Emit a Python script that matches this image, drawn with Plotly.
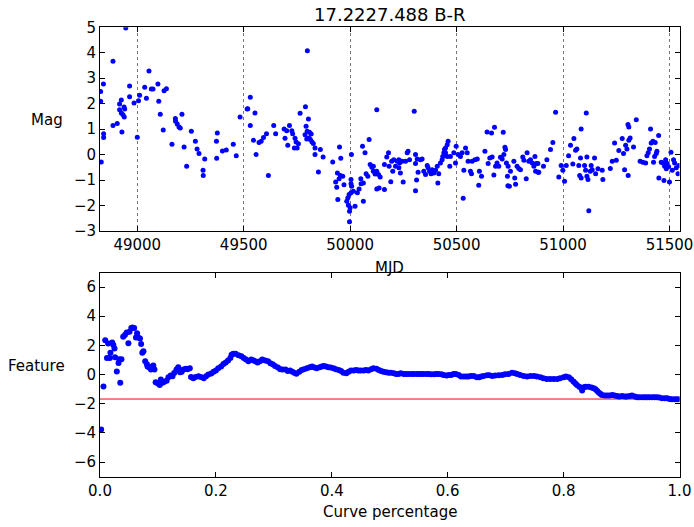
import plotly.graph_objects as go

title_text = "17.2227.488 B-R"

# ---- top panel: light curve (MJD, Mag) ----
mjd = [
    48946, 48886, 48841, 48828, 48828, 48964, 49055, 49035, 49074, 49066,
    49097, 49126, 49137, 48964, 49011, 49043, 49006, 48985, 49101, 48925,
    48917, 48938, 48941, 48917, 48925, 48933, 48939, 49108, 49210, 49179,
    49180, 49188, 49196, 49202, 48886, 48906, 48928, 48842, 48842, 49000,
    49122, 49254, 49273, 49281, 49290, 49317, 49163, 49220, 49232, 49309,
    49310, 49372, 49376, 49373, 49400, 49418, 49451, 49465, 49483, 49516,
    48831,
    49531, 49519, 49553, 49531, 49546, 49558, 49572, 49582, 49593, 49607,
    49616, 49641, 49650, 49799, 49790, 49765, 49804, 49690, 49702, 49715,
    49726, 49730, 49694, 49741, 49746, 49707, 49738, 49751, 49757, 49793,
    49798, 49809, 49817, 49788, 49796, 49806, 49813, 49820, 49827, 49835,
    49835, 49860, 49873, 49851, 49918, 49950, 49956, 49940, 49954, 49965,
    49948, 49932, 49971, 49937, 49942, 50006, 50004, 50004, 50007, 49995,
    49989, 49984, 50004, 50015, 49992, 50000, 49997, 49997, 50023, 50034,
    50042, 50051, 50062, 50050, 50062, 50058, 50070, 50089, 50075, 50083,
    50094, 50102, 50109, 50109, 50117, 50125, 50133, 50141, 50125, 50136,
    50125, 50161, 50161, 50172, 50180, 50191, 50195, 50200, 50183,
    50205, 50213, 50221, 50229, 50229, 50236, 50232, 50244, 50249, 50268,
    50272, 50260, 50279, 50301, 50307, 50315, 50307, 50319, 50312, 50307,
    50330, 50338, 50346, 50354, 50362, 50366, 50373, 50380, 50385, 50393,
    50401, 50409, 50412, 50416, 50424, 50432, 50435, 50440, 50443, 50448,
    50456, 50460, 50448, 50456, 50468, 50471, 50487, 50495, 50498, 50507,
    50518, 50526, 50534, 50531, 50542, 50550, 50554, 50565, 50570, 50573,
    50586, 50597, 50607, 50604, 50617, 50633, 50643, 50664, 50678, 50719,
    50648, 50656, 50667, 50675, 50683, 50690, 50698, 50706, 50714, 50722,
    50727, 50730, 50734, 50739, 50741, 50748, 50742, 50753, 50769, 50773,
    50777, 50784, 50792, 50800, 50811, 50816, 50827, 50831, 50839, 50847,
    50855, 50863, 50868, 50874, 50883, 50871,
    50882, 50886, 50908, 50924, 50941, 50952, 50965, 50980, 50991, 50999,
    51007, 51015, 51026, 51035, 51046, 51051, 51059, 51065, 51074, 51078,
    51082, 51085, 51085, 51101, 51106, 51109, 51112, 51112, 51117, 51121,
    51128, 51132, 51137, 51148, 51153, 51164, 51184, 51187, 51222, 51231,
    51242, 51250, 51262, 51278, 51284, 51289, 51294, 51300, 51305, 51309,
    51309, 51315, 51306, 51331, 51344, 51362, 51375, 51388, 51394, 51400,
    51406, 51411, 51414, 51422, 51425, 51430, 51433, 51438, 51441, 51449,
    51450, 51461, 51469, 51474, 51477, 51482, 51485, 51489, 51496, 51500,
    51507, 51513, 51519, 51524, 51532, 51540, 51544,
]
mag = [
    4.97, 3.67, 2.77, 2.48, 2.10, 2.69, 3.28, 2.65, 2.58, 2.58,
    2.77, 2.51, 2.59, 2.27, 2.33, 2.21, 2.12, 2.03, 2.10, 2.14,
    1.99, 1.87, 1.79, 1.76, 1.63, 1.57, 1.48, 1.59, 1.59, 1.42,
    1.31, 1.20, 1.08, 1.05, 1.14, 1.22, 0.89, 0.82, 0.67, 0.68,
    0.97, 0.92, 0.52, 0.22, 0.04, -0.17, 0.41, 0.30, -0.46, -0.61,
    -0.82, 0.52, 0.85, -0.14, 0.14, 0.18, 0.41, -0.04, 1.48, 1.79,
    -0.29,
    2.25, 1.80, 1.63, 1.14, 0.56, 0.00, 0.48, 0.52, 0.67, 0.82,
    -0.82, 1.14, 0.82, 4.08, 1.88, 1.62, 1.40, 1.01, 0.94, 1.14,
    0.94, 0.82, 0.64, 0.64, 0.50, 0.37, 0.26, 0.26, 0.43, 1.11,
    0.92, 0.88, 0.81, 0.78, 0.61, 0.65, 0.59, 0.51, 0.44, 0.26,
    0.00, 0.20, -0.09, -0.68, -0.29, 0.30, -0.14, -0.72, -0.82, -0.85,
    -0.95, -1.08, -1.18, -1.28, -1.76, 0.00, -0.98, -1.14, -1.24, -1.57,
    -1.70, -1.83, -1.50, -1.44, -1.99, -2.09, -2.22, -2.64, -2.03, -1.50,
    -1.35, -1.14, -1.83, -0.95, -1.11, 0.33, 0.07, 0.59, -0.75, -0.85,
    -0.39, -0.50, -0.65, -0.46, -0.76, -0.65, -0.78, -0.88, -1.35, -1.31,
    1.76, -1.37, -0.39, -0.09, 0.07, -1.07, -0.26, -0.65, -0.46,
    -0.20, -0.46, -0.26, -0.20, -0.52, -0.72, -0.33, -0.26, -1.08, 0.07,
    0.13, -0.26, -0.20, 1.70, 0.00, -0.17, -0.35, -0.69, -1.00, -1.42,
    -0.20, -0.17, -0.65, -0.78, -0.43, -0.52, -0.65, -0.75, -0.59, -0.72,
    -0.61, -0.46, -1.11, -0.75, -0.33, -0.20, -0.07, 0.07, 0.20, 0.26,
    0.39, 0.52, 0.07, -0.07, -0.46, -0.07, 0.07, -0.33, 0.33, 0.00,
    -0.07, 0.07, -0.61, -1.71, 0.26, 0.07, -0.26, -0.65, -0.75, -0.26,
    -0.20, -0.17, -0.65, -1.20, -0.85, 0.13, 0.89, 0.85, 1.07, 0.88,
    -0.35, -0.13, -0.09, -0.80, -0.46, -0.33, -0.46, -0.10, -0.17, 0.00,
    0.29, 0.20, -0.33, -0.85, -1.22, -1.24, -0.46, -0.65, -0.26, -0.92,
    -1.16, -0.46, -0.55, -0.59, -0.09, -0.22, -0.95, 0.07, -0.26, -0.20,
    -0.33, -0.46, -0.07, -0.35, -0.69, -0.65,
    -0.35, -0.69, -0.46, -0.20, 0.20, 0.48, 1.66, -0.88, -0.43, -0.61,
    -1.05, -0.43, -0.04, 0.37, -0.37, 0.63, 0.17, 0.22, -0.43, -0.82,
    -0.13, 1.01, -0.92, -0.43, -0.61, 1.63, -0.09, -0.85, -0.98, -2.20,
    -0.65, -0.43, -0.59, -0.13, -0.75, -0.56, -0.61, -0.98, -0.55, -0.26,
    0.46, -0.22, 0.16, 0.63, 0.04, -0.59, 0.37, 0.22, 1.18, 1.08,
    0.56, 0.65, -0.82, 0.30, 1.37, -0.26, -0.30, -0.33, -0.04, 0.07,
    0.22, 1.01, 0.46, 0.52, -0.30, -0.07, 0.48, 0.04, 0.13, 0.75,
    -0.92, -0.30, -0.33, -1.02, -0.46, -0.20, -0.56, -0.35, -0.48, -1.08,
    0.09, -0.61, -0.20, -0.33, -0.52, -0.75, -0.43,
]

# ---- bottom panel: feature vs curve percentage ----
frac = [
    0.002, 0.006, 0.009, 0.012, 0.014, 0.017, 0.018, 0.021, 0.023, 0.025,
    0.026, 0.029, 0.032, 0.033, 0.035, 0.037, 0.040, 0.043, 0.046, 0.049,
    0.051, 0.054, 0.056, 0.059, 0.062, 0.064, 0.066, 0.069, 0.071, 0.073,
    0.075, 0.078, 0.081, 0.082, 0.085, 0.088, 0.090, 0.092, 0.094, 0.096,
    0.100, 0.103, 0.105, 0.108, 0.111, 0.115, 0.118, 0.122, 0.125, 0.128,
    0.132, 0.135, 0.138, 0.141, 0.144, 0.148, 0.151, 0.155, 0.157, 0.161,
    0.165, 0.170, 0.174, 0.179, 0.183, 0.187, 0.192, 0.196, 0.200, 0.204,
    0.209, 0.213, 0.217, 0.221, 0.225, 0.227, 0.230, 0.234, 0.239, 0.244,
    0.248, 0.252, 0.256, 0.261, 0.265, 0.269, 0.272, 0.276, 0.280, 0.285,
    0.290, 0.294, 0.298, 0.302, 0.307, 0.311, 0.315, 0.320, 0.324, 0.328,
    0.332, 0.336, 0.339, 0.344, 0.348, 0.352, 0.357, 0.362, 0.366, 0.370,
    0.374, 0.379, 0.383, 0.386, 0.390, 0.394, 0.398, 0.403, 0.407, 0.412,
    0.416, 0.420, 0.425, 0.429, 0.433, 0.438, 0.442, 0.446, 0.450, 0.455,
    0.459, 0.463, 0.468, 0.472, 0.477, 0.481, 0.485, 0.489, 0.494, 0.498,
    0.502, 0.507, 0.511, 0.515, 0.519, 0.524, 0.528, 0.532, 0.537, 0.541,
    0.546, 0.550, 0.554, 0.558, 0.563, 0.567, 0.571, 0.576, 0.580, 0.584,
    0.589, 0.593, 0.598, 0.602, 0.606, 0.610, 0.614, 0.619, 0.623, 0.628,
    0.632, 0.636, 0.640, 0.645, 0.650, 0.654, 0.658, 0.662, 0.668, 0.672,
    0.677, 0.682, 0.688, 0.694, 0.699, 0.705, 0.711, 0.716, 0.720, 0.725,
    0.731, 0.737, 0.743, 0.749, 0.754, 0.760, 0.765, 0.771, 0.777, 0.783,
    0.789, 0.794, 0.800, 0.804, 0.809, 0.813, 0.817, 0.820, 0.823, 0.827,
    0.831, 0.832, 0.835, 0.838, 0.843, 0.848, 0.852, 0.855, 0.858, 0.861,
    0.864, 0.866, 0.871, 0.875, 0.879, 0.884, 0.888, 0.892, 0.896, 0.901,
    0.906, 0.909, 0.914, 0.918, 0.923, 0.927, 0.931, 0.936, 0.940, 0.944,
    0.948, 0.953, 0.957, 0.961, 0.965, 0.970, 0.975, 0.979, 0.983, 0.987,
    0.992, 0.996, 1.000,
]
feature = [
    -3.77, -0.82, 2.35, 1.14, 2.13, 1.14, 1.49, 2.20, 2.03, 1.78,
    1.19, 0.21, 0.80, 1.05, -0.57, 1.05, 2.60, 2.72, 2.88, 2.15,
    2.94, 3.20, 3.22, 3.20, 2.54, 2.83, 2.54, 2.47, 2.10, 1.49,
    1.60, 0.91, 0.71, 0.55, 0.48, 0.34, 0.55, 0.62, 0.34, -0.53,
    -0.61, -0.71, -0.34, -0.57, -0.50, -0.43, -0.18, -0.07, -0.11, 0.11,
    0.34, 0.50, 0.16, 0.20, 0.34, 0.39, 0.36, 0.43, -0.16, -0.25,
    -0.16, -0.11, -0.16, -0.25, -0.11, 0.00, 0.07, 0.20, 0.27, 0.43,
    0.55, 0.73, 0.82, 0.96, 1.14, 1.35, 1.42, 1.42, 1.33, 1.26,
    1.14, 1.03, 0.91, 1.03, 0.96, 0.89, 0.82, 0.91, 1.03, 0.96,
    0.91, 0.78, 0.71, 0.59, 0.48, 0.36, 0.34, 0.34, 0.25, 0.27,
    0.20, 0.11, 0.05, 0.20, 0.32, 0.36, 0.43, 0.50, 0.55, 0.48,
    0.43, 0.50, 0.55, 0.59, 0.55, 0.50, 0.48, 0.43, 0.36, 0.32,
    0.25, 0.13, 0.09, 0.20, 0.27, 0.27, 0.32, 0.27, 0.27, 0.27,
    0.32, 0.27, 0.36, 0.43, 0.39, 0.32, 0.25, 0.20, 0.16, 0.13,
    0.13, 0.09, 0.04, 0.04, 0.09, 0.04, 0.04, 0.04, 0.04, 0.04,
    0.04, 0.04, 0.04, 0.04, 0.04, 0.04, 0.02, 0.02, 0.04, 0.04,
    0.02, -0.03, -0.07, -0.03, -0.03, 0.04, 0.04, -0.03, -0.14, -0.14,
    -0.14, -0.14, -0.10, -0.10, -0.19, -0.19, -0.14, -0.10, -0.05, -0.05,
    -0.10, -0.07, -0.05, -0.03, 0.02, 0.04, 0.13, 0.09, 0.04, -0.03,
    -0.10, -0.14, -0.10, -0.10, -0.14, -0.19, -0.26, -0.30, -0.30, -0.30,
    -0.30, -0.26, -0.19, -0.14, -0.19, -0.33, -0.48, -0.60, -0.71, -0.83,
    -0.94, -1.10, -0.87, -0.83, -0.83, -0.89, -0.94, -1.00, -1.12, -1.24,
    -1.33, -1.40, -1.44, -1.44, -1.44, -1.40, -1.44, -1.47, -1.51, -1.47,
    -1.51, -1.51, -1.47, -1.44, -1.51, -1.56, -1.56, -1.56, -1.56, -1.56,
    -1.56, -1.56, -1.56, -1.56, -1.58, -1.63, -1.63, -1.63, -1.67, -1.70,
    -1.70, -1.70, -1.70,
]
threshold = -1.68

mjd_ticks = [49000, 49500, 50000, 50500, 51000, 51500]
mag_ticks = [-3, -2, -1, 0, 1, 2, 3, 4, 5]
frac_ticks = [0.0, 0.2, 0.4, 0.6, 0.8, 1.0]
feat_ticks = [-6, -4, -2, 0, 2, 4, 6]

FONT = "DejaVu Sans"
BLUE = "#0000ff"

fig = go.Figure()
fig.add_trace(go.Scatter(x=mjd, y=mag, mode="markers",
                         marker=dict(color=BLUE, size=5, line=dict(width=0)),
                         xaxis="x", yaxis="y", showlegend=False, hoverinfo="skip"))
fig.add_trace(go.Scatter(x=[0, 1], y=[threshold, threshold], mode="lines",
                         line=dict(color="#ff0000", width=1),
                         xaxis="x2", yaxis="y2", showlegend=False, hoverinfo="skip"))
fig.add_trace(go.Scatter(x=frac, y=feature, mode="markers",
                         marker=dict(color=BLUE, size=6, line=dict(width=0)),
                         xaxis="x2", yaxis="y2", showlegend=False, hoverinfo="skip"))

W, H = 694, 527
xl, xr = 100 / W, 679.5 / W
top_dom = [1 - 231 / H, 1 - 27.3 / H]
bot_dom = [1 - 476.6 / H, 1 - 272.5 / H]

axis_common = dict(showline=True, linecolor="black", linewidth=1, mirror="ticks",
                   ticks="inside", ticklen=5, tickwidth=1, tickcolor="black",
                   zeroline=False, automargin=False,
                   tickfont=dict(family=FONT, size=15, color="black"))

fig.update_layout(
    width=W, height=H,
    margin=dict(l=0, r=0, t=0, b=0),
    paper_bgcolor="white", plot_bgcolor="white",
    font=dict(family=FONT, color="black"),
    xaxis=dict(domain=[xl, xr], anchor="y", range=[48825, 51547],
               tickvals=mjd_ticks, tickformat="d", showgrid=True, griddash="dot",
               gridcolor="#777777", gridwidth=1, **axis_common),
    yaxis=dict(domain=top_dom, anchor="x", range=[-3, 5], tickvals=mag_ticks,
               showgrid=False, **axis_common),
    xaxis2=dict(domain=[xl, xr], anchor="y2", range=[0, 1], tickvals=frac_ticks,
                tickformat=".1f", showgrid=False, **axis_common),
    yaxis2=dict(domain=bot_dom, anchor="x2", range=[-7, 7], tickvals=feat_ticks,
                showgrid=False, **axis_common),
    annotations=[
        dict(text=title_text, x=389.5 / W, y=1 - 15 / H, xref="paper", yref="paper",
             showarrow=False, xanchor="center", yanchor="middle",
             font=dict(family=FONT, size=18, color="black")),
        dict(text="Mag", x=65 / W, y=1 - 120 / H, xref="paper", yref="paper",
             showarrow=False, xanchor="right", yanchor="middle",
             font=dict(family=FONT, size=15, color="black")),
        dict(text="Feature", x=67 / W, y=1 - 366 / H, xref="paper", yref="paper",
             showarrow=False, xanchor="right", yanchor="middle",
             font=dict(family=FONT, size=15, color="black")),
        dict(text="MJD", x=389.5 / W, y=1 - 268 / H, xref="paper", yref="paper",
             showarrow=False, xanchor="center", yanchor="middle",
             font=dict(family=FONT, size=15, color="black")),
        dict(text="Curve percentage", x=389.5 / W, y=1 - 512 / H, xref="paper", yref="paper",
             showarrow=False, xanchor="center", yanchor="middle",
             font=dict(family=FONT, size=15, color="black")),
    ],
)

fig.write_html("out.html")
